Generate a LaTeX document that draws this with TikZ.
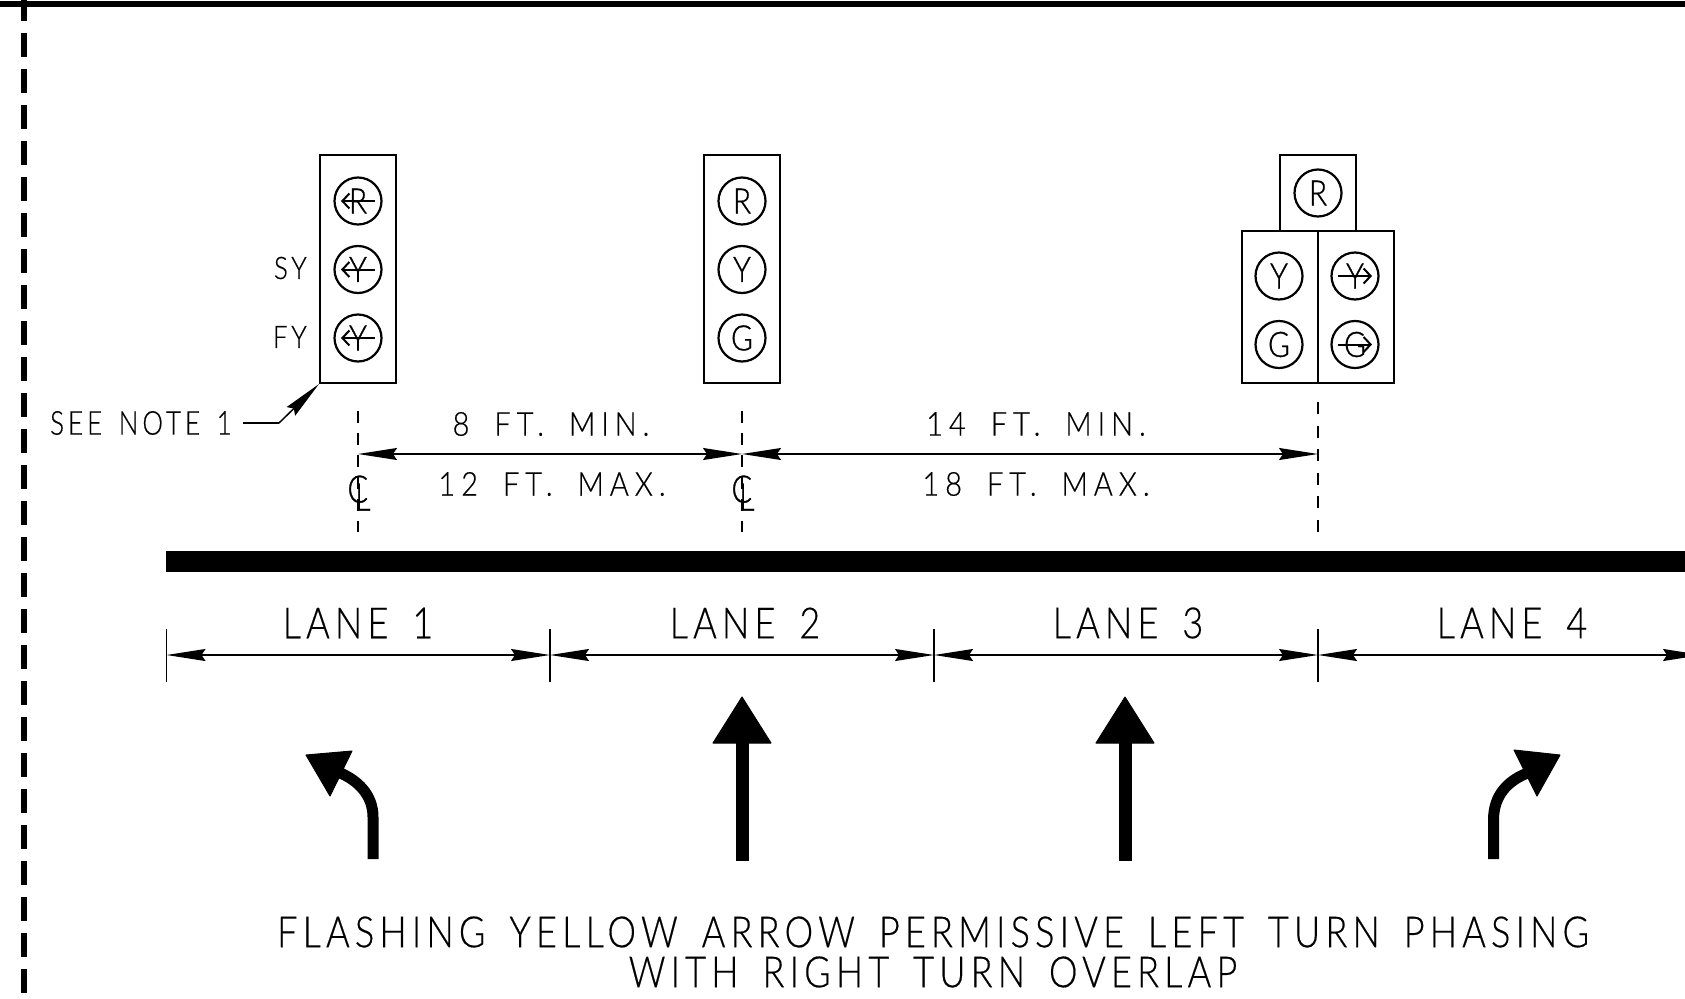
\documentclass[tikz,border=0pt]{standalone}
\usepackage{fontspec}
\usepackage{tikz}
\setmainfont{Lato Light}[LetterSpace=12,FakeStretch=.84,WordSpace=1.6,FakeBold=.4]
\newfontfamily\dimfont{Lato Light}[LetterSpace=18,FakeStretch=.88,WordSpace=1.8,FakeBold=.4]
\newfontfamily\notefont{Lato Light}[LetterSpace=12,FakeStretch=.79,WordSpace=1.5,FakeBold=.4]
\newfontfamily\lensfont{Lato Light}[FakeStretch=.85,FakeBold=.8]
\newfontfamily\markfont{Lato Light}[FakeStretch=.8,FakeBold=.8]
\usetikzlibrary{arrows.meta}
\usetikzlibrary{positioning}

\begin{document}
\begin{tikzpicture}[x=1pt,y=-1pt,>={Stealth[length=39pt,width=12pt,inset=4pt]},
  head box/.style={draw,line width=2.2pt,inner sep=0pt,minimum width=76pt,minimum height=228pt},
  lens/.style={circle,draw,line width=2.2pt,inner sep=0pt,outer sep=0pt,minimum size=47pt,font=\lensfont\fontsize{35}{35}\selectfont},
  lens arrow/.style={line width=2pt,-{Straight Barb[length=7pt,width=15pt]}},
  dim line/.style={<->,line width=1.5pt},
  center line/.style={line width=1.5pt,dash pattern=on 12pt off 10pt},
  small text/.style={inner sep=0pt,font=\fontsize{33}{33}\selectfont},
  dim text/.style={inner sep=0pt,font=\dimfont\fontsize{33}{33}\selectfont},
  lane text/.style={inner sep=0pt,font=\fontsize{43}{43}\selectfont},
  lane arrow/.style={fill=black,line join=round,draw,line width=1pt}]

  \useasboundingbox (0,0) rectangle (1685,998);
  \clip (0,0) rectangle (1685,998);

  % sheet border
  \fill (0,1) rectangle (1685,7);
  \draw[line width=6pt,dash pattern=on 24pt off 12pt] (24,-3) -- (24,998);

  % signal heads
  \node[head box] (head1) at (358,269) {};
  \node[lens] (r1) at (358,201) {R};
  \node[lens] (y1) [below=21.5pt of r1] {Y};
  \node[lens] (fy1) [below=21.5pt of y1] {Y};

  \node[head box] (head2) at (742,269) {};
  \node[lens] (r2) at (742,201) {R};
  \node[lens] (y2) [below=21.5pt of r2] {Y};
  \node[lens] (g2) [below=21.5pt of y2] {G};

  \node[head box,minimum height=76pt] (head3) at (1318,193) {};
  \node[head box,minimum height=152pt] (head3a) at (1280,307) {};
  \node[head box,minimum height=152pt] (head3b) at (1356,307) {};
  \node[lens] (r3) at (1318,193) {R};
  \node[lens] (y3) at (1279,276) {Y};
  \node[lens] (g3) [below=21.5pt of y3] {G};
  \node[lens] (y4) at (1355,276) {Y};
  \node[lens] (g4) [below=21.5pt of y4] {G};

  \draw[lens arrow] ([xshift=17pt]r1.center) -- ([xshift=-17pt]r1.center);
  \draw[lens arrow] ([xshift=17pt]y1.center) -- ([xshift=-17pt]y1.center);
  \draw[lens arrow] ([xshift=17pt]fy1.center) -- ([xshift=-17pt]fy1.center);
  \draw[lens arrow] ([xshift=-17pt]y4.center) -- ([xshift=17pt]y4.center);
  \draw[lens arrow] ([xshift=-17pt]g4.center) -- ([xshift=17pt]g4.center);

  \node[small text,anchor=east,font=\fontsize{31}{31}\selectfont] (sy) at (307,268) {SY};
  \node[small text,anchor=east,font=\fontsize{31}{31}\selectfont] (fy) at (307,337) {FY};
  \node[small text,anchor=east,font=\notefont\fontsize{33}{33}\selectfont] (note) at (232,423) {SEE NOTE 1};
  \coordinate (bend) at (279,423);
  \coordinate (tail) at (243,423);
  \draw[line width=1.5pt] (tail) -- (bend);
  \draw[line width=1.5pt,->] (bend) -- (head1.south west);

  % center lines
  \coordinate (cl1a) at (358,411);
  \coordinate (cl1b) at (358,532);
  \coordinate (cl2a) at (742,411);
  \coordinate (cl2b) at (742,532);
  \coordinate (cl3a) at (1318,402);
  \coordinate (cl3b) at (1318,532);
  \coordinate (dim1) at (358,454);
  \coordinate (dim2) at (742,454);
  \coordinate (dim3) at (1318,454);
  \draw[center line] (cl1a) -- (cl1b);
  \draw[center line] (cl2a) -- (cl2b);
  \draw[center line,dash pattern=on 12pt off 11.6pt] (cl3a) -- (cl3b);
  \draw[dim line] (dim1) -- (dim2);
  \draw[dim line] (dim2) -- (dim3);

  \node[small text,font=\markfont\fontsize{38}{38}\selectfont] (mark1) at (359,493) {C\kern-13pt\raisebox{-8pt}{L}};
  \node[small text,font=\markfont\fontsize{38}{38}\selectfont] (mark2) at (743,493) {C\kern-13pt\raisebox{-8pt}{L}};

  \node[dim text] (min1) at (551,424) {8 FT. MIN.};
  \node[dim text] (max1) at (552,484) {12 FT. MAX.};
  \node[dim text] (min2) at (1036,424) {14 FT. MIN.};
  \node[dim text] (max2) at (1036,484) {18 FT. MAX.};

  % curb line
  \fill (166,551) rectangle (1685,572);

  % lane widths
  \foreach \name/\xpos in {a/166.5,b/550,c/934,d/1318} {
    \coordinate (\name up) at (\xpos,629);
    \coordinate (\name down) at (\xpos,682);
    \coordinate (\name) at (\xpos,655);
    \draw[line width=1.5pt] (\name up) -- (\name down);
  }
  \coordinate (e) at (1702,655);
  \draw[dim line] (a) -- (b);
  \draw[dim line] (b) -- (c);
  \draw[dim line] (c) -- (d);
  \draw[dim line] (d) -- (e);

  \node[lane text] (lane1) at (358,623) {LANE 1};
  \node[lane text] (lane2) at (745,623) {LANE 2};
  \node[lane text] (lane3) at (1128,623) {LANE 3};
  \node[lane text] (lane4) at (1512,623) {LANE 4};

  % lane arrows
  \fill (735.5,861) rectangle (748.5,740);
  \draw[lane arrow] (742,697) -- (771,743) -- (713,743) -- cycle;
  \fill (1118.5,861) rectangle (1131.5,740);
  \draw[lane arrow] (1125,697) -- (1154,743) -- (1096,743) -- cycle;

  \draw[line width=11pt] (373,859) -- (373,817) .. controls (373,795) and (358,780) .. (338,772);
  \draw[lane arrow] (306,755) -- (352,751) -- (330,796) -- cycle;
  \draw[line width=11pt] (1493.5,859) -- (1493.5,820) .. controls (1493.5,795) and (1508,780) .. (1530,772);
  \draw[lane arrow] (1560,755) -- (1514,750) -- (1537,796) -- cycle;

  \node[lane text] (title1) at (933,932) {FLASHING YELLOW ARROW PERMISSIVE LEFT TURN PHASING};
  \node[lane text] (title2) at (933,972) {WITH RIGHT TURN OVERLAP};
\end{tikzpicture}
\end{document}
